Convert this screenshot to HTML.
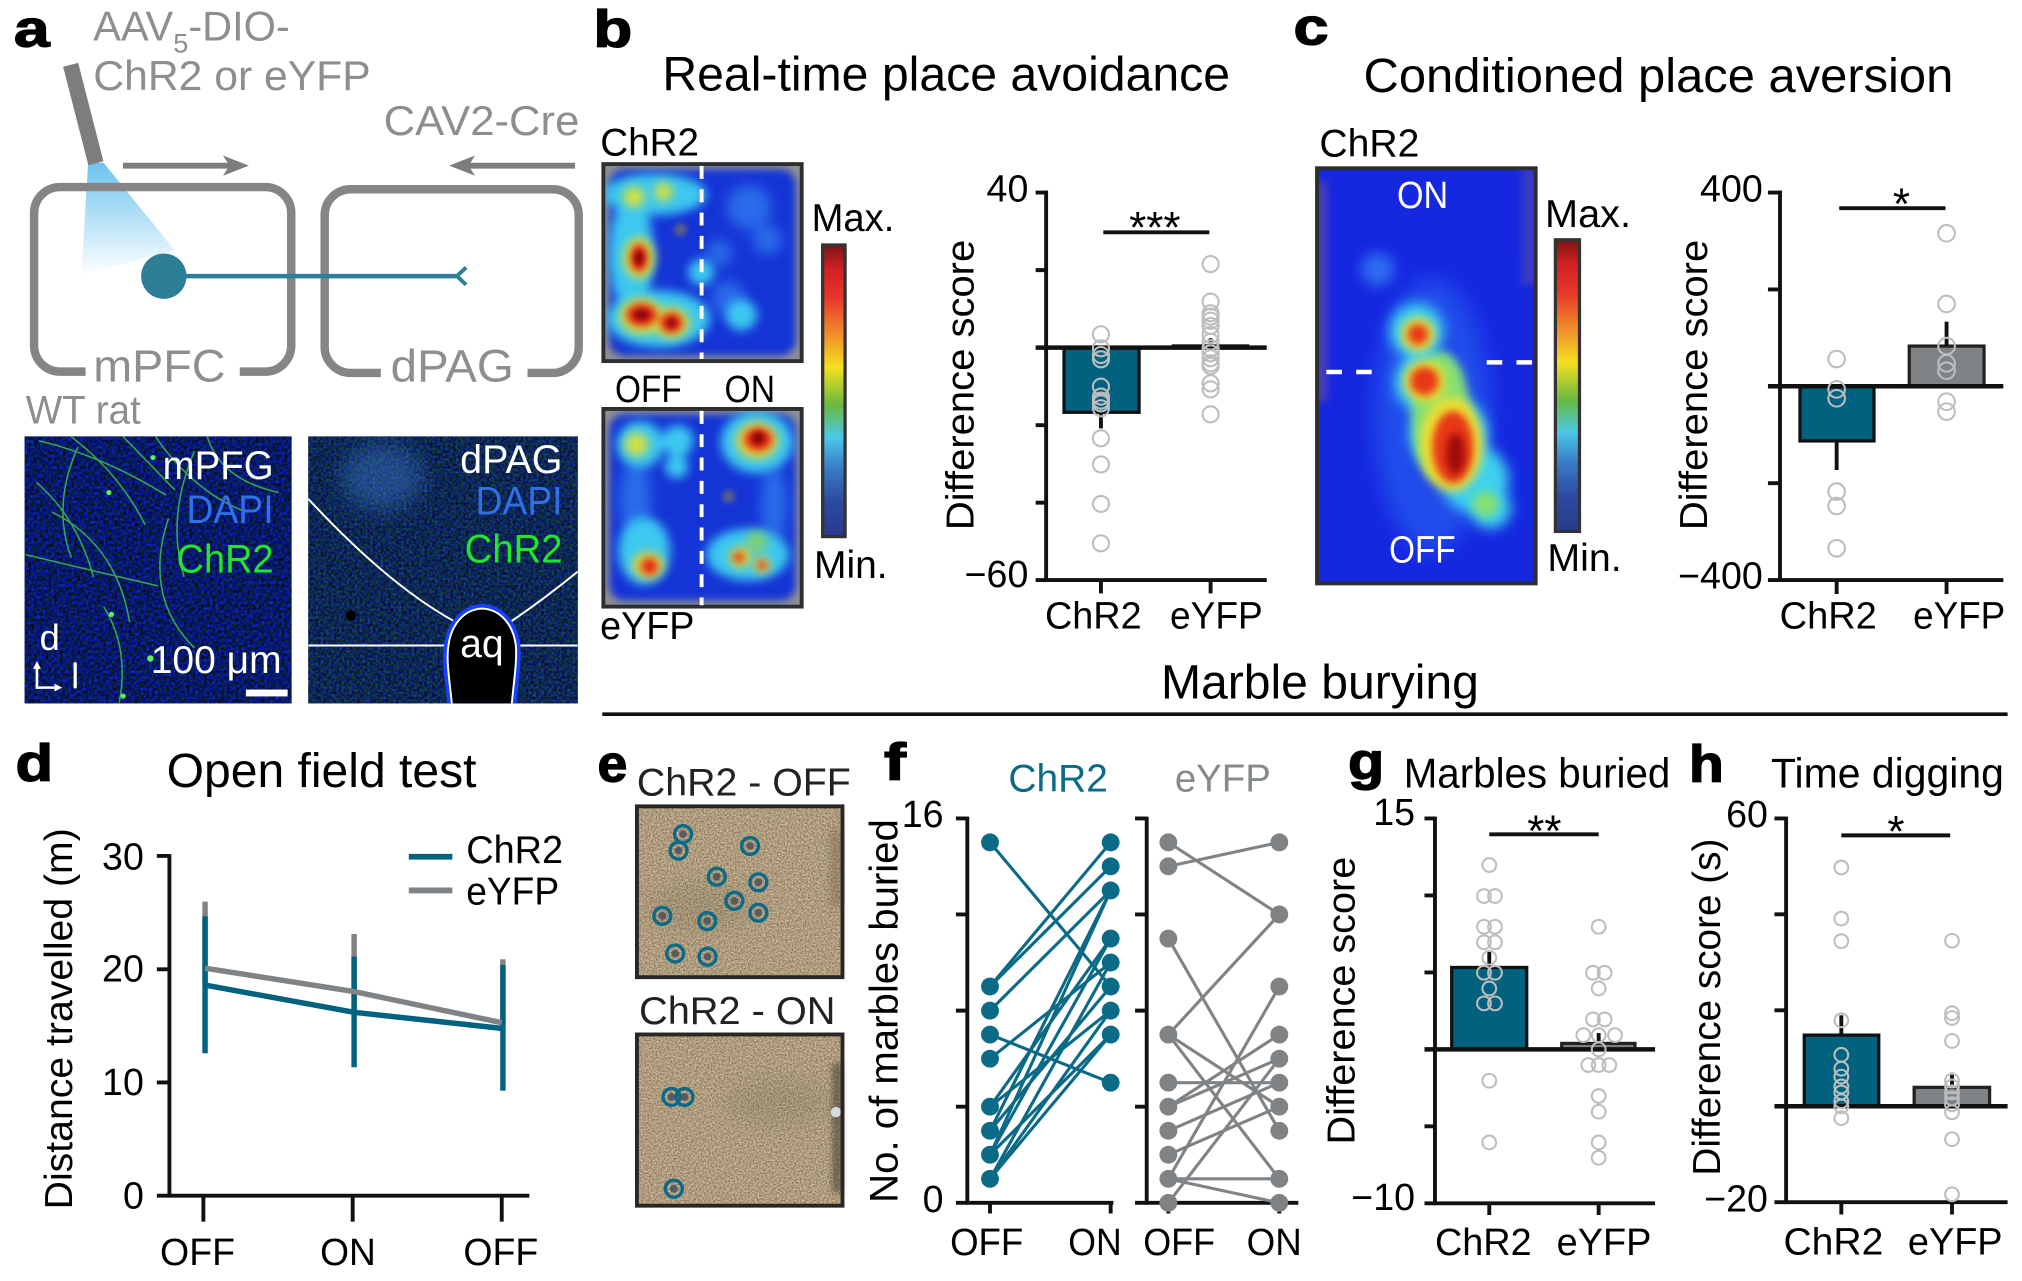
<!DOCTYPE html>
<html><head><meta charset="utf-8"><style>
html,body{margin:0;padding:0;background:#fff;}
svg{display:block;color-interpolation-filters:sRGB;}
filter{color-interpolation-filters:sRGB;}
text{font-family:"Liberation Sans",Arial,Helvetica,sans-serif;}
</style></head><body>
<svg width="2022" height="1281" viewBox="0 0 1560 988.3" preserveAspectRatio="none" xmlns="http://www.w3.org/2000/svg" color-interpolation-filters="sRGB">
<defs>
<filter id="bl2" x="-50%" y="-50%" width="200%" height="200%" color-interpolation-filters="sRGB"><feGaussianBlur stdDeviation="2"/></filter>
<filter id="bl3" x="-50%" y="-50%" width="200%" height="200%" color-interpolation-filters="sRGB"><feGaussianBlur stdDeviation="3"/></filter>
<filter id="bl4" x="-50%" y="-50%" width="200%" height="200%" color-interpolation-filters="sRGB"><feGaussianBlur stdDeviation="4"/></filter>
<filter id="bl5" x="-50%" y="-50%" width="200%" height="200%" color-interpolation-filters="sRGB"><feGaussianBlur stdDeviation="5"/></filter>
<filter id="bl8" x="-50%" y="-50%" width="200%" height="200%" color-interpolation-filters="sRGB"><feGaussianBlur stdDeviation="8"/></filter>
<filter id="sand" x="0" y="0" width="100%" height="100%" color-interpolation-filters="sRGB">
<feTurbulence type="fractalNoise" baseFrequency="0.8" numOctaves="2" seed="5"/>
<feColorMatrix type="matrix" values="0.6 0 0 0 0.38  0.56 0 0 0 0.33  0.5 0 0 0 0.24  0 0 0 0 1"/>
</filter>
<filter id="micro1" x="0" y="0" width="100%" height="100%" color-interpolation-filters="sRGB">
<feTurbulence type="fractalNoise" baseFrequency="0.45" numOctaves="1" seed="2"/>
<feColorMatrix type="matrix" values="0 0 0 0 0.03  0 0.3 0 0 -0.05  1.7 0 0 0 -0.45  0 0 0 0 1"/>
</filter>
<filter id="micro2" x="0" y="0" width="100%" height="100%" color-interpolation-filters="sRGB">
<feTurbulence type="fractalNoise" baseFrequency="0.5" numOctaves="1" seed="7"/>
<feColorMatrix type="matrix" values="0 0 0 0 0.05  0 0.55 0 0 -0.12  1.2 0 0 0 -0.27  0 0 0 0 1"/>
</filter>
<linearGradient id="cone" x1="0" y1="0" x2="0" y2="1">
<stop offset="0" stop-color="#6cc4ee"/><stop offset="1" stop-color="#ffffff"/>
</linearGradient>
<linearGradient id="cbar" x1="0" y1="0" x2="0" y2="1">
<stop offset="0" stop-color="#7a1418"/><stop offset="0.08" stop-color="#cf1f22"/><stop offset="0.18" stop-color="#e8362a"/>
<stop offset="0.3" stop-color="#ef8a2a"/><stop offset="0.42" stop-color="#f5e020"/><stop offset="0.55" stop-color="#68b840"/>
<stop offset="0.66" stop-color="#4cc8e8"/><stop offset="0.76" stop-color="#3a7ec8"/><stop offset="0.88" stop-color="#2c4aa0"/>
<stop offset="1" stop-color="#283a8c"/>
</linearGradient>
<clipPath id="cb1"><rect x="465.5" y="126.6" width="153" height="152"/></clipPath>
<clipPath id="cb2"><rect x="465.5" y="315.5" width="153" height="152.5"/></clipPath>
<clipPath id="cc"><rect x="1016.1" y="129.8" width="168.7" height="320.3"/></clipPath>
<clipPath id="cm1"><rect x="19" y="336.7" width="206" height="206"/></clipPath>
<clipPath id="cm2"><rect x="237.8" y="336.7" width="208" height="206"/></clipPath>
</defs>

<!-- ============ PANEL A ============ -->
<text x="10.7" y="35.7" font-size="40" font-weight="bold" stroke="#000" stroke-width="1" textLength="27.6" lengthAdjust="spacingAndGlyphs">a</text>
<g fill="#8e8e8e">
<text x="72" y="31.4" font-size="32">AAV<tspan font-size="21" dy="9">5</tspan><tspan dy="-9">-DIO-</tspan></text>
<text x="72" y="69.6" font-size="32" textLength="214" lengthAdjust="spacingAndGlyphs">ChR2 or eYFP</text>
<text x="296" y="104.2" font-size="32" textLength="151" lengthAdjust="spacingAndGlyphs">CAV2-Cre</text>
<text x="72" y="294.5" font-size="35" textLength="102" lengthAdjust="spacingAndGlyphs">mPFC</text>
<text x="301.4" y="294.5" font-size="35" textLength="95" lengthAdjust="spacingAndGlyphs">dPAG</text>
<text x="19.9" y="326.7" font-size="31" textLength="88.7" lengthAdjust="spacingAndGlyphs">WT rat</text>
</g>
<polygon points="68,125.7 80,125.7 134.6,192.8 62.7,212.4" fill="url(#cone)"/>
<line x1="54.5" y1="50" x2="74" y2="126" stroke="#7d7d7d" stroke-width="12"/>
<g stroke="#858585" stroke-width="6.5" fill="none">
<path d="M66,286.7 H46.3 A20,20 0 0 1 26.3,266.7 V164.3 A20,20 0 0 1 46.3,144.3 H204.7 A20,20 0 0 1 224.7,164.3 V266.7 A20,20 0 0 1 204.7,286.7 H185"/>
<path d="M293.8,287.7 H270.5 A20,20 0 0 1 250.5,267.7 V166 A20,20 0 0 1 270.5,146 H426.5 A20,20 0 0 1 446.5,166 V267.7 A20,20 0 0 1 426.5,287.7 H407"/>
</g>
<g stroke="#7d7d7d" stroke-width="4.5"><line x1="94.9" y1="127.8" x2="182" y2="127.8"/><line x1="356" y1="127.8" x2="443.7" y2="127.8"/></g>
<path d="M192,127.8 L172,120 L177,127.8 L172,135.6 Z" fill="#7d7d7d"/>
<path d="M346.5,127.8 L366.5,120 L361.5,127.8 L366.5,135.6 Z" fill="#7d7d7d"/>
<line x1="126" y1="213" x2="353" y2="213" stroke="#2c7f97" stroke-width="3.5"/>
<polyline points="359.6,206.3 352.5,213 359.6,219.7" fill="none" stroke="#2c7f97" stroke-width="3"/>
<circle cx="126.4" cy="213.1" r="17.5" fill="#2c7f97"/>

<!-- micrograph left -->
<g clip-path="url(#cm1)">
<rect x="19" y="336.7" width="206" height="206" fill="#0a1a60"/>
<rect x="19" y="336.7" width="206" height="206" filter="url(#micro1)"/>
<g fill="none" stroke="#3cc050" stroke-width="1.2" opacity="0.85">
<path d="M30,340 Q80,352 128,382"/><path d="M55,337 Q92,365 112,405"/><path d="M95,337 L135,378"/>
<path d="M150,348 Q128,400 142,445"/><path d="M28,372 Q60,400 72,445"/><path d="M20,428 Q70,440 122,452"/>
<path d="M80,468 Q100,500 92,542"/><path d="M120,337 Q150,380 190,395"/><path d="M40,395 Q90,420 100,480"/>
<path d="M160,337 Q170,370 215,380"/><path d="M60,345 Q40,390 55,430"/><path d="M130,400 Q110,460 150,500"/>
</g>
<g fill="#5cf060"><circle cx="86" cy="474" r="2"/><circle cx="116" cy="508" r="2.5"/><circle cx="95" cy="537" r="2"/><circle cx="84" cy="380" r="2"/><circle cx="118" cy="353" r="2"/></g>
</g>
<g font-size="31">
<text x="125.5" y="369.5" fill="#fff" textLength="85.6" lengthAdjust="spacingAndGlyphs">mPFG</text>
<text x="143.8" y="403.4" fill="#2f70e8" textLength="67.3" lengthAdjust="spacingAndGlyphs">DAPI</text>
<text x="136.2" y="441.6" fill="#22e62a" textLength="74.9" lengthAdjust="spacingAndGlyphs">ChR2</text>
<text x="30.6" y="501.6" fill="#fff" font-size="28">d</text>
<text x="116.3" y="519.4" fill="#fff" font-size="30" textLength="101" lengthAdjust="spacingAndGlyphs">100 μm</text>
</g>
<path d="M28.5,514 V530.5 H44" fill="none" stroke="#fff" stroke-width="2"/>
<path d="M28.5,510 L25.5,516 L31.5,516 Z M48,530.5 L42,527.5 L42,533.5 Z" fill="#fff"/>
<line x1="58" y1="511" x2="58" y2="531" stroke="#fff" stroke-width="2.5"/>
<rect x="189.7" y="532" width="32.2" height="5.3" fill="#fff"/>

<!-- micrograph right -->
<g clip-path="url(#cm2)">
<rect x="237.8" y="336.7" width="208" height="206" fill="#0c2650"/>
<rect x="237.8" y="336.7" width="208" height="206" filter="url(#micro2)"/>
<ellipse cx="295" cy="368" rx="32" ry="26" fill="#3a78c8" opacity="0.45" filter="url(#bl8)"/>
<circle cx="270.8" cy="474.8" r="4" fill="#000"/>
<g fill="none" stroke="#fff" stroke-width="1.5">
<path d="M237.8,384.8 Q300,452 352,480.2"/><path d="M393.2,480.2 Q420,462 445.8,440.9"/>
<path d="M237.8,498 H346 M398,498 H445.8"/>
</g>
<path d="M348.8,545 C347,525 344,510 346,498 C348,482 358,470 372,469.5 C386,470 396,482 398,498 C399,512 396,528 394.7,545 Z" fill="none" stroke="#1a40ff" stroke-width="7"/>
<path d="M348.8,545 C347,525 344,510 346,498 C348,482 358,470 372,469.5 C386,470 396,482 398,498 C399,512 396,528 394.7,545 Z" fill="#000" stroke="#fff" stroke-width="1.5"/>
</g>
<g font-size="31">
<text x="355" y="364.9" fill="#fff" textLength="79" lengthAdjust="spacingAndGlyphs">dPAG</text>
<text x="367" y="397" fill="#2f70e8" textLength="67" lengthAdjust="spacingAndGlyphs">DAPI</text>
<text x="358.6" y="433.8" fill="#22e62a" textLength="75.4" lengthAdjust="spacingAndGlyphs">ChR2</text>
<text x="355" y="507" fill="#fff" textLength="33.6" lengthAdjust="spacingAndGlyphs">aq</text>
</g>

<!-- ============ PANEL B ============ -->
<text x="457.8" y="35.8" font-size="40" font-weight="bold" stroke="#000" stroke-width="1" textLength="30" lengthAdjust="spacingAndGlyphs">b</text>
<text x="511" y="69.8" font-size="37" textLength="438" lengthAdjust="spacingAndGlyphs">Real-time place avoidance</text>
<text x="463.1" y="120.1" font-size="30" textLength="76.2" lengthAdjust="spacingAndGlyphs">ChR2</text>
<text x="474.5" y="310" font-size="29" textLength="51.5" lengthAdjust="spacingAndGlyphs">OFF</text>
<text x="559" y="310" font-size="29" textLength="39" lengthAdjust="spacingAndGlyphs">ON</text>
<text x="463" y="493" font-size="30" textLength="72.8" lengthAdjust="spacingAndGlyphs">eYFP</text>
<text x="626.2" y="178.4" font-size="30" textLength="63.8" lengthAdjust="spacingAndGlyphs">Max.</text>
<text x="628" y="445.9" font-size="30" textLength="56.8" lengthAdjust="spacingAndGlyphs">Min.</text>
<rect x="634.7" y="189" width="17.3" height="225" fill="url(#cbar)" stroke="#333" stroke-width="2.5"/>

<!-- heatmap b1 -->
<g clip-path="url(#cb1)">
<rect x="465.5" y="126.6" width="153" height="152" fill="#8e9094"/>
<rect x="470" y="130.5" width="144" height="144" rx="12" fill="#1534d6" filter="url(#bl3)"/>
<g filter="url(#bl5)" fill="#2a6cea"><circle cx="578" cy="160" r="17"/><circle cx="592" cy="185" r="11"/><circle cx="562" cy="230" r="13"/><circle cx="555" cy="195" r="10"/></g>
<circle cx="525" cy="177" r="5" fill="#5a6088" filter="url(#bl2)"/>
<g filter="url(#bl4)" fill="#3cc8f0">
<ellipse cx="505" cy="150" rx="40" ry="16"/><ellipse cx="487" cy="196" rx="17" ry="45"/><ellipse cx="508" cy="246" rx="40" ry="22"/>
<circle cx="541" cy="210" r="10"/><circle cx="572" cy="243" r="12"/>
</g>
<g filter="url(#bl4)" fill="#d8e238"><circle cx="489" cy="152" r="8"/><circle cx="512" cy="148" r="7"/><ellipse cx="493" cy="199" rx="12" ry="16"/><ellipse cx="495" cy="244" rx="17" ry="14"/><ellipse cx="518" cy="249" rx="14" ry="12"/></g>
<g filter="url(#bl3)" fill="#e42818"><ellipse cx="493" cy="199" rx="7" ry="11"/><ellipse cx="495" cy="243" rx="12" ry="9"/><ellipse cx="518" cy="249" rx="9" ry="8"/></g>
<g filter="url(#bl2)" fill="#8a0808"><ellipse cx="493" cy="199" rx="3.5" ry="6"/><ellipse cx="495" cy="243" rx="6" ry="4"/><circle cx="518" cy="249" r="3.5"/></g>
</g>
<rect x="465.5" y="126.6" width="153" height="152" fill="none" stroke="#2e2e2e" stroke-width="3"/>
<line x1="541.3" y1="128" x2="541.3" y2="277" stroke="#fff" stroke-width="3" stroke-dasharray="10,8"/>

<!-- heatmap b2 -->
<g clip-path="url(#cb2)">
<rect x="465.5" y="315.5" width="153" height="152.5" fill="#8e9094"/>
<rect x="470" y="319.5" width="144" height="144" rx="12" fill="#1534d6" filter="url(#bl3)"/>
<circle cx="562" cy="383" r="5" fill="#5a6088" filter="url(#bl2)"/>
<g filter="url(#bl5)" fill="#2a6cea"><ellipse cx="490" cy="385" rx="12" ry="30"/><ellipse cx="597" cy="390" rx="10" ry="30"/></g>
<g filter="url(#bl4)" fill="#3cc8f0">
<circle cx="494" cy="343" r="18"/><circle cx="523" cy="340" r="12"/><circle cx="522" cy="360" r="9"/>
<ellipse cx="584" cy="341" rx="28" ry="24"/><ellipse cx="497" cy="425" rx="20" ry="26"/><ellipse cx="577" cy="428" rx="32" ry="20"/>
</g>
<g filter="url(#bl4)"><circle cx="491" cy="343" r="9" fill="#d8e040"/><ellipse cx="584" cy="340" rx="16" ry="14" fill="#e8d830"/><ellipse cx="500" cy="436" rx="12" ry="10" fill="#e8d830"/><circle cx="571" cy="430" r="8" fill="#e8d830"/><circle cx="588" cy="436" r="6" fill="#e8d830"/><circle cx="584" cy="418" r="8" fill="#80d070"/></g>
<g filter="url(#bl3)" fill="#e42818"><ellipse cx="585" cy="339" rx="11" ry="9"/><circle cx="501" cy="437" r="6.5"/><circle cx="570" cy="430" r="4"/><circle cx="588" cy="436" r="3.5"/></g>
<g filter="url(#bl2)" fill="#8a0808"><circle cx="585" cy="338" r="5"/></g>
</g>
<rect x="465.5" y="315.5" width="153" height="152.5" fill="none" stroke="#2e2e2e" stroke-width="3"/>
<line x1="541.3" y1="317" x2="541.3" y2="467" stroke="#fff" stroke-width="3" stroke-dasharray="10,8"/>

<!-- bar chart b -->
<rect x="820.9" y="268.2" width="57.9" height="49.9" fill="#00627f" stroke="#111" stroke-width="2.5"/>
<rect x="904.7" y="266.4" width="58.4" height="1.8" fill="#7f8386" stroke="#111" stroke-width="1.5"/>
<line x1="849.4" y1="318" x2="849.4" y2="330.5" stroke="#111" stroke-width="3"/>
<line x1="934" y1="261" x2="934" y2="266" stroke="#111" stroke-width="3"/>
<g stroke="#111" stroke-width="3" fill="none">
<path d="M807.1,147 V447.5 H977.3"/>
<path d="M799,148.6 H807 M799,208.4 H807 M799,328 H807 M799,387.8 H807 M799,447.5 H807"/>
<path d="M849.4,447.5 V457.8 M934,447.5 V457.8"/>
<line x1="799" y1="268.2" x2="977.3" y2="268.2" stroke-width="3.5"/>
<line x1="851.2" y1="179.2" x2="933" y2="179.2"/>
</g>
<text x="891" y="187" font-size="34" text-anchor="middle">***</text>
<g fill="none" stroke="#bdbdbd" stroke-width="1.6">
<circle cx="849.4" cy="257.9" r="6.2"/><circle cx="849.4" cy="268.7" r="6.2"/><circle cx="849.4" cy="273.9" r="6.2"/><circle cx="849.4" cy="277.2" r="6.2"/><circle cx="849.4" cy="298.3" r="6.2"/><circle cx="849.4" cy="306" r="6.2"/><circle cx="849.4" cy="309.1" r="6.2"/><circle cx="849.4" cy="311.2" r="6.2"/><circle cx="849.4" cy="315" r="6.2"/><circle cx="849.4" cy="338.2" r="6.2"/><circle cx="849.4" cy="358.3" r="6.2"/><circle cx="849.4" cy="388.8" r="6.2"/><circle cx="849.4" cy="419.2" r="6.2"/>
<circle cx="934" cy="203.7" r="6.2"/><circle cx="934" cy="232.7" r="6.2"/><circle cx="934" cy="241.7" r="6.2"/><circle cx="934" cy="244.3" r="6.2"/><circle cx="934" cy="247.4" r="6.2"/><circle cx="934" cy="251.5" r="6.2"/><circle cx="934" cy="258.4" r="6.2"/><circle cx="934" cy="263.6" r="6.2"/><circle cx="934" cy="268.7" r="6.2"/><circle cx="934" cy="272.6" r="6.2"/><circle cx="934" cy="276.4" r="6.2"/><circle cx="934" cy="280.3" r="6.2"/><circle cx="934" cy="282.4" r="6.2"/><circle cx="934" cy="295.7" r="6.2"/><circle cx="934" cy="300.4" r="6.2"/><circle cx="934" cy="319.7" r="6.2"/>
</g>
<g font-size="29">
<text x="793.4" y="155.6" text-anchor="end">40</text>
<text x="793.4" y="453" text-anchor="end">−60</text>
<text x="806.2" y="484.8" textLength="74.6" lengthAdjust="spacingAndGlyphs">ChR2</text>
<text x="902.7" y="484.8" textLength="71.5" lengthAdjust="spacingAndGlyphs">eYFP</text>
</g>
<text transform="translate(751,297) rotate(-90)" font-size="30" text-anchor="middle" textLength="224" lengthAdjust="spacingAndGlyphs">Difference score</text>

<!-- ============ PANEL C ============ -->
<text x="998" y="34.2" font-size="40" font-weight="bold" stroke="#000" stroke-width="1" textLength="27" lengthAdjust="spacingAndGlyphs">c</text>
<text x="1052" y="70.8" font-size="37" textLength="455" lengthAdjust="spacingAndGlyphs">Conditioned place aversion</text>
<text x="1017.9" y="120.7" font-size="30" textLength="77.2" lengthAdjust="spacingAndGlyphs">ChR2</text>
<g clip-path="url(#cc)">
<rect x="1016.1" y="129.8" width="168.7" height="320.3" fill="#1528e0"/>
<rect x="1014" y="140" width="10" height="170" fill="#a06070" opacity="0.4" filter="url(#bl3)"/>
<rect x="1174" y="130" width="12" height="90" fill="#9a6a80" opacity="0.3" filter="url(#bl3)"/>
<ellipse cx="1105" cy="320" rx="45" ry="105" fill="#2456ee" opacity="0.8" filter="url(#bl8)"/>
<circle cx="1063" cy="208" r="13" fill="#2e6cf0" filter="url(#bl5)"/>
<g filter="url(#bl5)" fill="#3ed2f0"><circle cx="1093" cy="255" r="21"/><circle cx="1100" cy="295" r="24"/><circle cx="1118" cy="335" r="30"/><circle cx="1138" cy="370" r="26"/><circle cx="1150" cy="392" r="16"/></g>
<g filter="url(#bl4)" fill="#88e070"><circle cx="1146" cy="389" r="10"/><ellipse cx="1112" cy="322" rx="22" ry="50"/></g>
<g filter="url(#bl4)" fill="#f0e030"><circle cx="1094" cy="258" r="13"/><circle cx="1099" cy="294" r="16"/><ellipse cx="1120" cy="343" rx="24" ry="36"/></g>
<g filter="url(#bl3)" fill="#e83818"><circle cx="1094" cy="258" r="8"/><circle cx="1099" cy="294" r="11"/><ellipse cx="1121" cy="345" rx="16" ry="28"/></g>
<ellipse cx="1123" cy="350" rx="7" ry="16" fill="#a00a0a" filter="url(#bl3)"/>
</g>
<rect x="1016.1" y="129.8" width="168.7" height="320.3" fill="none" stroke="#2e2e2e" stroke-width="3"/>
<g stroke="#fff" stroke-width="3.5" stroke-dasharray="12,11"><line x1="1023.3" y1="287" x2="1063" y2="287"/><line x1="1147" y1="279.6" x2="1186" y2="279.6"/></g>
<text x="1077.8" y="160.6" font-size="29" fill="#fff" textLength="39.5" lengthAdjust="spacingAndGlyphs">ON</text>
<text x="1071.7" y="433.9" font-size="29" fill="#fff" textLength="51.3" lengthAdjust="spacingAndGlyphs">OFF</text>
<text x="1192" y="175.2" font-size="30" textLength="66.4" lengthAdjust="spacingAndGlyphs">Max.</text>
<text x="1193.8" y="440.4" font-size="30" textLength="57.4" lengthAdjust="spacingAndGlyphs">Min.</text>
<rect x="1200" y="185" width="18.6" height="225" fill="url(#cbar)" stroke="#333" stroke-width="2.5"/>

<!-- bar chart c -->
<rect x="1388.7" y="298" width="57.1" height="42.2" fill="#00627f" stroke="#111" stroke-width="2.5"/>
<rect x="1473" y="267" width="57.7" height="31" fill="#7f8386" stroke="#222" stroke-width="2.5"/>
<line x1="1417" y1="340" x2="1417" y2="362.6" stroke="#111" stroke-width="3"/>
<line x1="1501.8" y1="267" x2="1501.8" y2="248.2" stroke="#111" stroke-width="3"/>
<g stroke="#111" stroke-width="3" fill="none">
<path d="M1373.3,147 V447.5 H1545.6"/>
<path d="M1364,148.6 H1373 M1364,223.3 H1373 M1364,372.8 H1373 M1364,447.5 H1373"/>
<path d="M1417,447.5 V458.3 M1501.8,447.5 V458.3"/>
<line x1="1364" y1="298" x2="1545.6" y2="298" stroke-width="3.5"/>
<line x1="1419" y1="160.6" x2="1501" y2="160.6"/>
</g>
<text x="1467" y="169" font-size="34" text-anchor="middle">*</text>
<g fill="none" stroke="#bdbdbd" stroke-width="1.6">
<circle cx="1417" cy="277" r="6.4"/><circle cx="1417" cy="300.4" r="6.4"/><circle cx="1417" cy="307.3" r="6.4"/><circle cx="1417" cy="379.3" r="6.4"/><circle cx="1417" cy="390.4" r="6.4"/><circle cx="1417" cy="423" r="6.4"/>
<circle cx="1501.8" cy="180" r="6.4"/><circle cx="1501.8" cy="234.5" r="6.4"/><circle cx="1501.8" cy="267" r="6.4"/><circle cx="1501.8" cy="280.3" r="6.4"/><circle cx="1501.8" cy="286" r="6.4"/><circle cx="1501.8" cy="309.9" r="6.4"/><circle cx="1501.8" cy="317.6" r="6.4"/>
</g>
<g font-size="29">
<text x="1360" y="155.6" text-anchor="end">400</text>
<text x="1360" y="454" text-anchor="end">−400</text>
<text x="1373" y="485" textLength="75" lengthAdjust="spacingAndGlyphs">ChR2</text>
<text x="1476" y="485" textLength="71" lengthAdjust="spacingAndGlyphs">eYFP</text>
</g>
<text transform="translate(1317,297) rotate(-90)" font-size="30" text-anchor="middle" textLength="224" lengthAdjust="spacingAndGlyphs">Difference score</text>

<!-- ============ Marble burying header ============ -->
<text x="895.7" y="539" font-size="37" textLength="245.3" lengthAdjust="spacingAndGlyphs">Marble burying</text>
<line x1="464.7" y1="551" x2="1548.9" y2="551" stroke="#111" stroke-width="2.8"/>

<!-- ============ PANEL D ============ -->
<text x="12" y="602" font-size="40" font-weight="bold" stroke="#000" stroke-width="1" textLength="29" lengthAdjust="spacingAndGlyphs">d</text>
<text x="128.6" y="607" font-size="37" textLength="239" lengthAdjust="spacingAndGlyphs">Open field test</text>
<g stroke="#111" stroke-width="3" fill="none">
<path d="M130.7,659 V922.5 H408.4"/>
<path d="M121,660.4 H130.7 M121,747.8 H130.7 M121,835.1 H130.7 M121,922.5 H130.7"/>
<path d="M156.9,922.5 V942.5 M272.1,922.5 V942.5 M387.1,922.5 V942.5"/>
</g>
<g stroke="#7f8386" stroke-width="4.2">
<line x1="158.2" y1="695.6" x2="158.2" y2="760"/><line x1="273.2" y1="720.6" x2="273.2" y2="780"/><line x1="388" y1="740.1" x2="388" y2="790"/>
</g>
<g stroke="#00627f" stroke-width="4.2">
<line x1="158.2" y1="707" x2="158.2" y2="812.6"/><line x1="273.2" y1="738" x2="273.2" y2="823.4"/><line x1="388" y1="744.5" x2="388" y2="841.4"/>
</g>
<polyline points="158.2,747 273.2,765 387.1,789" fill="none" stroke="#7f8386" stroke-width="4.2"/>
<polyline points="158.2,760 273.2,781 387.1,793.4" fill="none" stroke="#00627f" stroke-width="4.2"/>
<line x1="315.4" y1="661" x2="349" y2="661" stroke="#00627f" stroke-width="4.5"/>
<line x1="315.4" y1="687" x2="349" y2="687" stroke="#7f8386" stroke-width="4.5"/>
<g font-size="30">
<text x="359.7" y="666" textLength="74.7" lengthAdjust="spacingAndGlyphs">ChR2</text>
<text x="359.7" y="698" textLength="71.7" lengthAdjust="spacingAndGlyphs">eYFP</text>
</g>
<g font-size="29">
<text x="111" y="671" text-anchor="end">30</text>
<text x="111" y="757.3" text-anchor="end">20</text>
<text x="111" y="844.8" text-anchor="end">10</text>
<text x="111" y="932.2" text-anchor="end">0</text>
<text x="123.5" y="976" textLength="57.8" lengthAdjust="spacingAndGlyphs">OFF</text>
<text x="247" y="976" textLength="43" lengthAdjust="spacingAndGlyphs">ON</text>
<text x="357.5" y="976" textLength="57.8" lengthAdjust="spacingAndGlyphs">OFF</text>
</g>
<text transform="translate(55.7,786) rotate(-90)" font-size="30" text-anchor="middle" textLength="294" lengthAdjust="spacingAndGlyphs">Distance travelled (m)</text>

<!-- ============ PANEL E ============ -->
<text x="461" y="603" font-size="40" font-weight="bold" stroke="#000" stroke-width="1" textLength="23" lengthAdjust="spacingAndGlyphs">e</text>
<text x="491.4" y="613.6" font-size="30" fill="#222" textLength="165" lengthAdjust="spacingAndGlyphs">ChR2 - OFF</text>
<text x="493" y="789.9" font-size="30" fill="#222" textLength="151.6" lengthAdjust="spacingAndGlyphs">ChR2 - ON</text>
<rect x="491.4" y="622.1" width="158.6" height="131.8" filter="url(#sand)"/>
<rect x="491.4" y="798.1" width="158.6" height="132.1" filter="url(#sand)"/>
<g clip-path="none">
<ellipse cx="540" cy="700" rx="40" ry="18" fill="#6a5e48" opacity="0.18" filter="url(#bl8)"/>
<ellipse cx="600" cy="850" rx="40" ry="18" fill="#6a5e48" opacity="0.18" filter="url(#bl8)"/>
</g>
<rect x="641" y="640" width="8" height="60" fill="#5a5040" opacity="0.35" filter="url(#bl3)"/>
<rect x="642" y="820" width="8" height="100" fill="#3a3028" opacity="0.5" filter="url(#bl2)"/>
<circle cx="645" cy="858" r="4" fill="#d8dce0"/>
<rect x="491.4" y="622.1" width="158.6" height="131.8" fill="none" stroke="#2a2624" stroke-width="3"/>
<rect x="491.4" y="798.1" width="158.6" height="132.1" fill="none" stroke="#2a2624" stroke-width="3"/>
<g fill="#5a5a60"><circle cx="527" cy="643.5" r="3"/><circle cx="523.5" cy="656.3" r="3"/><circle cx="578.7" cy="652.7" r="3"/><circle cx="553" cy="676.4" r="3"/><circle cx="585.1" cy="680.7" r="3"/><circle cx="566.6" cy="695" r="3"/><circle cx="585.1" cy="704.2" r="3"/><circle cx="511" cy="706.6" r="3"/><circle cx="545.6" cy="710.6" r="3"/><circle cx="520.9" cy="735.6" r="3"/><circle cx="545.9" cy="738.1" r="3"/><circle cx="518.1" cy="846.3" r="3"/><circle cx="528.1" cy="846.3" r="3"/><circle cx="519.9" cy="917.1" r="3"/></g>
<g fill="none" stroke="#0a6a88" stroke-width="2.6">
<circle cx="527" cy="643.5" r="6.5"/><circle cx="523.5" cy="656.3" r="6.5"/><circle cx="578.7" cy="652.7" r="6.5"/><circle cx="553" cy="676.4" r="6.5"/><circle cx="585.1" cy="680.7" r="6.5"/><circle cx="566.6" cy="695" r="6.5"/><circle cx="585.1" cy="704.2" r="6.5"/><circle cx="511" cy="706.6" r="6.5"/><circle cx="545.6" cy="710.6" r="6.5"/><circle cx="520.9" cy="735.6" r="6.5"/><circle cx="545.9" cy="738.1" r="6.5"/>
<circle cx="518.1" cy="846.3" r="6.5"/><circle cx="528.1" cy="846.3" r="6.5"/><circle cx="519.9" cy="917.1" r="6.5"/>
</g>

<!-- ============ PANEL F ============ -->
<text x="682" y="601.4" font-size="40" font-weight="bold" stroke="#000" stroke-width="1" textLength="17" lengthAdjust="spacingAndGlyphs">f</text>
<text x="778" y="610.6" font-size="30" fill="#0b6a86" textLength="76.7" lengthAdjust="spacingAndGlyphs">ChR2</text>
<text x="906.4" y="610.6" font-size="30" fill="#858a8d" textLength="74.1" lengthAdjust="spacingAndGlyphs">eYFP</text>
<g stroke="#111" stroke-width="3" fill="none">
<path d="M746.3,630 V928 H859"/>
<path d="M737.5,631.4 H746.3 M737.5,705.5 H746.3 M737.5,779.7 H746.3 M737.5,853.8 H746.3 M737.5,928 H746.3"/>
<path d="M763.8,928 V936.2 M856.9,928 V936.2"/>
<path d="M884.7,630 V928 H1001.7"/>
<path d="M875.7,631.4 H884.7 M875.7,705.5 H884.7 M875.7,779.7 H884.7 M875.7,853.8 H884.7 M875.7,928 H884.7"/>
<path d="M901.4,928 V936.2 M987,928 V936.2"/>
</g>
<g stroke="#0b6a86" stroke-width="2.4">
<line x1="763.8" y1="649.9" x2="856.9" y2="761.1"/><line x1="763.8" y1="761.1" x2="856.9" y2="649.9"/><line x1="763.8" y1="761.1" x2="856.9" y2="668.4"/>
<line x1="763.8" y1="779.7" x2="856.9" y2="687"/><line x1="763.8" y1="798.2" x2="856.9" y2="835.3"/><line x1="763.8" y1="816.8" x2="856.9" y2="742.6"/>
<line x1="763.8" y1="853.8" x2="856.9" y2="724.1"/><line x1="763.8" y1="853.8" x2="856.9" y2="779.7"/><line x1="763.8" y1="872.4" x2="856.9" y2="687"/>
<line x1="763.8" y1="872.4" x2="856.9" y2="761.1"/><line x1="763.8" y1="890.9" x2="856.9" y2="687"/><line x1="763.8" y1="890.9" x2="856.9" y2="798.2"/>
<line x1="763.8" y1="909.5" x2="856.9" y2="742.6"/><line x1="763.8" y1="909.5" x2="856.9" y2="779.7"/><line x1="763.8" y1="909.5" x2="856.9" y2="798.2"/>
<line x1="763.8" y1="890.9" x2="856.9" y2="724.1"/>
</g>
<g fill="#0b6a86">
<circle cx="763.8" cy="649.9" r="6.9"/><circle cx="763.8" cy="761.1" r="6.9"/><circle cx="763.8" cy="779.7" r="6.9"/><circle cx="763.8" cy="798.2" r="6.9"/><circle cx="763.8" cy="816.8" r="6.9"/><circle cx="763.8" cy="853.8" r="6.9"/><circle cx="763.8" cy="872.4" r="6.9"/><circle cx="763.8" cy="890.9" r="6.9"/><circle cx="763.8" cy="909.5" r="6.9"/>
<circle cx="856.9" cy="649.9" r="6.9"/><circle cx="856.9" cy="668.4" r="6.9"/><circle cx="856.9" cy="687" r="6.9"/><circle cx="856.9" cy="724.1" r="6.9"/><circle cx="856.9" cy="742.6" r="6.9"/><circle cx="856.9" cy="761.1" r="6.9"/><circle cx="856.9" cy="779.7" r="6.9"/><circle cx="856.9" cy="798.2" r="6.9"/><circle cx="856.9" cy="835.3" r="6.9"/>
</g>
<g stroke="#808386" stroke-width="2.4">
<line x1="901.4" y1="668.4" x2="987" y2="649.9"/><line x1="901.4" y1="649.9" x2="987" y2="705.5"/><line x1="901.4" y1="724.1" x2="987" y2="872.4"/>
<line x1="901.4" y1="798.2" x2="987" y2="705.5"/><line x1="901.4" y1="798.2" x2="987" y2="909.5"/><line x1="901.4" y1="798.2" x2="987" y2="853.8"/>
<line x1="901.4" y1="835.3" x2="987" y2="835.3"/><line x1="901.4" y1="853.8" x2="987" y2="816.8"/><line x1="901.4" y1="853.8" x2="987" y2="798.2"/>
<line x1="901.4" y1="872.4" x2="987" y2="835.3"/><line x1="901.4" y1="890.9" x2="987" y2="853.8"/><line x1="901.4" y1="909.5" x2="987" y2="761.1"/>
<line x1="901.4" y1="909.5" x2="987" y2="909.5"/><line x1="901.4" y1="909.5" x2="987" y2="928"/><line x1="901.4" y1="928" x2="987" y2="816.8"/>
</g>
<g fill="#808386">
<circle cx="901.4" cy="649.9" r="6.9"/><circle cx="901.4" cy="668.4" r="6.9"/><circle cx="901.4" cy="724.1" r="6.9"/><circle cx="901.4" cy="798.2" r="6.9"/><circle cx="901.4" cy="835.3" r="6.9"/><circle cx="901.4" cy="853.8" r="6.9"/><circle cx="901.4" cy="872.4" r="6.9"/><circle cx="901.4" cy="890.9" r="6.9"/><circle cx="901.4" cy="909.5" r="6.9"/><circle cx="901.4" cy="928" r="6.9"/>
<circle cx="987" cy="649.9" r="6.9"/><circle cx="987" cy="705.5" r="6.9"/><circle cx="987" cy="761.1" r="6.9"/><circle cx="987" cy="798.2" r="6.9"/><circle cx="987" cy="816.8" r="6.9"/><circle cx="987" cy="835.3" r="6.9"/><circle cx="987" cy="853.8" r="6.9"/><circle cx="987" cy="872.4" r="6.9"/><circle cx="987" cy="909.5" r="6.9"/><circle cx="987" cy="928" r="6.9"/>
</g>
<g font-size="29">
<text x="728" y="638" text-anchor="end">16</text>
<text x="728" y="935" text-anchor="end">0</text>
<text x="733" y="968.3" textLength="56.5" lengthAdjust="spacingAndGlyphs">OFF</text>
<text x="824.2" y="968.3" textLength="41.2" lengthAdjust="spacingAndGlyphs">ON</text>
<text x="882" y="968.3" textLength="55.4" lengthAdjust="spacingAndGlyphs">OFF</text>
<text x="961.8" y="968.3" textLength="42.5" lengthAdjust="spacingAndGlyphs">ON</text>
</g>
<text transform="translate(692.5,780) rotate(-90)" font-size="31" text-anchor="middle" textLength="296" lengthAdjust="spacingAndGlyphs">No. of marbles buried</text>

<!-- ============ PANEL G ============ -->
<text x="1040" y="601" font-size="40" font-weight="bold" stroke="#000" stroke-width="1" textLength="28" lengthAdjust="spacingAndGlyphs">g</text>
<text x="1083" y="607.6" font-size="32" textLength="205.7" lengthAdjust="spacingAndGlyphs">Marbles buried</text>
<rect x="1120" y="746.4" width="57.9" height="63.2" fill="#00627f" stroke="#111" stroke-width="2.5"/>
<rect x="1204.9" y="805" width="56.5" height="4.6" fill="#7f8386" stroke="#222" stroke-width="2.5"/>
<line x1="1149" y1="746.4" x2="1149" y2="734.3" stroke="#111" stroke-width="3"/>
<line x1="1233.4" y1="805" x2="1233.4" y2="797" stroke="#111" stroke-width="3"/>
<g stroke="#111" stroke-width="3" fill="none">
<path d="M1107.1,630 V928.4 H1276.9"/>
<path d="M1099,631.4 H1107 M1099,690.8 H1107 M1099,750.2 H1107 M1099,869 H1107 M1099,928.4 H1107"/>
<path d="M1149,928.4 V937.4 M1233.4,928.4 V937.4"/>
<line x1="1099" y1="809.6" x2="1276.9" y2="809.6" stroke-width="3.5"/>
<line x1="1149" y1="643.7" x2="1233.4" y2="643.7"/>
</g>
<text x="1191.5" y="652.7" font-size="34" text-anchor="middle">**</text>
<g fill="none" stroke="#bdbdbd" stroke-width="1.6">
<circle cx="1149" cy="667.4" r="5.3"/><circle cx="1149" cy="738.9" r="5.3"/><circle cx="1149" cy="762.6" r="5.3"/><circle cx="1149" cy="833.8" r="5.3"/><circle cx="1149" cy="881.4" r="5.3"/>
<circle cx="1144.9" cy="691.3" r="5.3"/><circle cx="1153.4" cy="691.3" r="5.3"/><circle cx="1144.9" cy="715" r="5.3"/><circle cx="1153.4" cy="715" r="5.3"/><circle cx="1144.9" cy="727" r="5.3"/><circle cx="1153.4" cy="727" r="5.3"/><circle cx="1144.9" cy="750.5" r="5.3"/><circle cx="1153.4" cy="750.5" r="5.3"/><circle cx="1144.9" cy="774.1" r="5.3"/><circle cx="1153.4" cy="774.1" r="5.3"/>
<circle cx="1233.4" cy="715" r="5.3"/><circle cx="1233.4" cy="762.6" r="5.3"/><circle cx="1233.4" cy="809.6" r="5.3"/><circle cx="1233.4" cy="845.6" r="5.3"/><circle cx="1233.4" cy="857.7" r="5.3"/><circle cx="1233.4" cy="881.4" r="5.3"/><circle cx="1233.4" cy="893.2" r="5.3"/>
<circle cx="1229" cy="750.5" r="5.3"/><circle cx="1238" cy="750.5" r="5.3"/><circle cx="1229" cy="786.5" r="5.3"/><circle cx="1238" cy="786.5" r="5.3"/>
<circle cx="1221.6" cy="798.6" r="5.3"/><circle cx="1233.4" cy="798.6" r="5.3"/><circle cx="1246" cy="798.6" r="5.3"/>
<circle cx="1225.4" cy="821.7" r="5.3"/><circle cx="1233.4" cy="821.7" r="5.3"/><circle cx="1241.6" cy="821.7" r="5.3"/>
</g>
<g font-size="29">
<text x="1091.7" y="636.5" text-anchor="end">15</text>
<text x="1091.7" y="933.6" text-anchor="end">−10</text>
<text x="1107.1" y="968.3" textLength="74.6" lengthAdjust="spacingAndGlyphs">ChR2</text>
<text x="1201" y="968.3" textLength="73" lengthAdjust="spacingAndGlyphs">eYFP</text>
</g>
<text transform="translate(1045,772) rotate(-90)" font-size="30" text-anchor="middle" textLength="222" lengthAdjust="spacingAndGlyphs">Difference score</text>

<!-- ============ PANEL H ============ -->
<text x="1303" y="603" font-size="40" font-weight="bold" stroke="#000" stroke-width="1" textLength="27" lengthAdjust="spacingAndGlyphs">h</text>
<text x="1366.4" y="607.6" font-size="32" textLength="179.6" lengthAdjust="spacingAndGlyphs">Time digging</text>
<rect x="1392" y="798.6" width="57.5" height="54.9" fill="#00627f" stroke="#111" stroke-width="2.5"/>
<rect x="1476.8" y="838.9" width="58.2" height="14.6" fill="#7f8386" stroke="#222" stroke-width="2.5"/>
<line x1="1420.6" y1="798.6" x2="1420.6" y2="783.3" stroke="#111" stroke-width="3"/>
<line x1="1506" y1="838.9" x2="1506" y2="827.6" stroke="#111" stroke-width="3"/>
<g stroke="#111" stroke-width="3" fill="none">
<path d="M1378,630 V927.5 H1548.9"/>
<path d="M1369,631.4 H1378 M1369,705.4 H1378 M1369,779.5 H1378 M1369,927.5 H1378"/>
<path d="M1420.6,927.5 V937 M1506,927.5 V937"/>
<line x1="1369" y1="853.5" x2="1548.9" y2="853.5" stroke-width="3.5"/>
<line x1="1420.6" y1="644.5" x2="1504.6" y2="644.5"/>
</g>
<text x="1462.8" y="653" font-size="34" text-anchor="middle">*</text>
<g fill="none" stroke="#bdbdbd" stroke-width="1.6">
<circle cx="1420.6" cy="669.3" r="5.3"/><circle cx="1420.6" cy="708.7" r="5.3"/><circle cx="1420.6" cy="726.1" r="5.3"/><circle cx="1420.6" cy="787.2" r="5.3"/><circle cx="1420.6" cy="813.8" r="5.3"/><circle cx="1420.6" cy="824.5" r="5.3"/><circle cx="1420.6" cy="830.6" r="5.3"/><circle cx="1420.6" cy="838.2" r="5.3"/><circle cx="1420.6" cy="842.8" r="5.3"/><circle cx="1420.6" cy="849.6" r="5.3"/><circle cx="1420.6" cy="853.6" r="5.3"/><circle cx="1420.6" cy="862.7" r="5.3"/>
<circle cx="1506" cy="725.8" r="5.3"/><circle cx="1506" cy="781.7" r="5.3"/><circle cx="1506" cy="785.4" r="5.3"/><circle cx="1506" cy="803.1" r="5.3"/><circle cx="1506" cy="833.7" r="5.3"/><circle cx="1506" cy="838.2" r="5.3"/><circle cx="1506" cy="842.8" r="5.3"/><circle cx="1506" cy="847.4" r="5.3"/><circle cx="1506" cy="852" r="5.3"/><circle cx="1506" cy="858.1" r="5.3"/><circle cx="1506" cy="878.9" r="5.3"/><circle cx="1506" cy="921.4" r="5.3"/>
</g>
<g font-size="29">
<text x="1364" y="638" text-anchor="end">60</text>
<text x="1364" y="934.6" text-anchor="end">−20</text>
<text x="1376" y="968" textLength="77" lengthAdjust="spacingAndGlyphs">ChR2</text>
<text x="1472" y="968" textLength="73" lengthAdjust="spacingAndGlyphs">eYFP</text>
</g>
<text transform="translate(1327,777) rotate(-90)" font-size="30" text-anchor="middle" textLength="260" lengthAdjust="spacingAndGlyphs">Difference score (s)</text>
</svg>
</body></html>
